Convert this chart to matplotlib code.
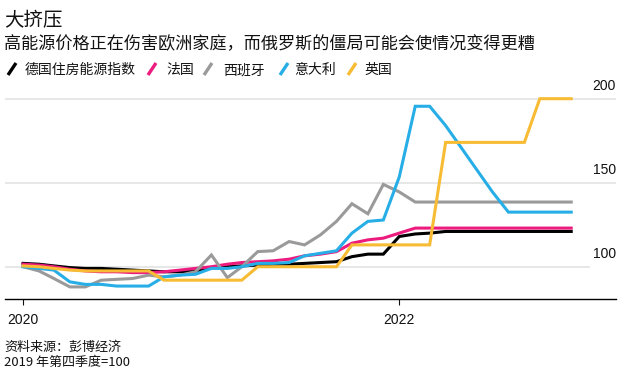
import matplotlib
matplotlib.use('Agg')
import matplotlib.pyplot as plt
import matplotlib.dates as mdates
import pandas as pd
from matplotlib.lines import Line2D

# 数据（2019 年第四季度=100），按月
bulan = pd.date_range('2020-01-01', periods=36, freq='MS')

jerman = [102, 101.5, 100.5, 99.5, 99, 99, 98.5, 98, 97.5, 97, 97, 97.5,
          99.5, 100, 100.5, 101, 101.5, 101.5, 102, 102.5, 103, 106, 107.5, 107.5,
          118, 119.5, 120, 121, 121, 121, 121, 121, 121, 121, 121, 121]
prancis = [101.5, 101, 100, 98.5, 97.5, 97, 97, 96.5, 96.5, 97, 98, 99,
           100, 101.5, 102.5, 103, 103.5, 104.5, 106.5, 107.5, 109, 114, 116, 117,
           120, 123, 123, 123, 123, 123, 123, 123, 123, 123, 123, 123]
spanyol = [100, 97.5, 93, 88, 88, 92, 92.5, 93, 95, 94, 95, 97,
           107, 93.5, 100, 109, 109.5, 115, 113, 119, 127, 137.5, 131.5, 149,
           144.5, 138.5, 138.5, 138.5, 138.5, 138.5, 138.5, 138.5, 138.5, 138.5, 138.5, 138.5]
italia = [100, 99, 98, 91, 89.5, 89.5, 88.5, 88.5, 88.5, 94, 95, 95.5,
          99, 99, 100, 102, 102, 102.5, 106.5, 108, 109.5, 120, 127, 127.8,
          153.5, 195.5, 195.5, 184, 171, 157.5, 144.5, 132.5, 132.5, 132.5, 132.5, 132.5]
inggris = [100.5, 100, 99, 98, 97.5, 97.5, 97.5, 97.5, 97.5, 92, 92, 92,
           92, 92, 92, 100, 100, 100, 100, 100, 100, 113, 113, 113,
           113, 113, 113, 174, 174, 174, 174, 174, 174, 200, 200, 200]

nama = ['德国住房能源指数', '法国', '西班牙', '意大利', '英国']
warna = ['#000000', '#ec1b7e', '#9a9a9a', '#27aee6', '#f8bc34']
nilai_y = [100, 150, 200]

cjk = ['Noto Sans CJK SC', 'DejaVu Sans']
angka = ['Liberation Sans', 'DejaVu Sans']

W, H = 644, 374
fig = plt.figure(figsize=(W / 100, H / 100), dpi=100)
ax = fig.add_axes([5 / W, 1 - 299 / H, 611 / W, (299 - 90.3) / H])


def fx(px):
    return px / W


def fy(py):
    return 1 - py / H


# garis grid (yang 100 sedikit lebih pendek, seperti aslinya)
for v in nilai_y:
    ujung = (589 - 5) / 611 if v == 100 else 1
    ax.axhline(v, xmax=ujung, color='#e3e3e3', lw=1.2, zorder=1)
    ax.annotate(str(v), xy=(1, v), xycoords=ax.get_yaxis_transform(),
                xytext=(0, 6.5), textcoords='offset points',
                ha='right', va='baseline', fontsize=10, family=angka, color='#111111')

for data, c in zip([jerman, prancis, spanyol, italia, inggris], warna):
    ax.plot(bulan, data, color=c, lw=2.2, zorder=3, solid_joinstyle='miter')

ax.set_xlim(pd.Timestamp('2019-11-27'), pd.Timestamp('2023-02-26'))
ax.set_ylim(80.8, 205)

for s in ['top', 'right', 'left']:
    ax.spines[s].set_visible(False)
ax.spines['bottom'].set_linewidth(1)
ax.set_yticks([])
ax.set_xticks([pd.Timestamp('2020-01-01'), pd.Timestamp('2022-01-01')])
ax.xaxis.set_major_formatter(mdates.DateFormatter('%Y'))
ax.tick_params(axis='x', direction='out', length=4, width=0.8, pad=6,
               labelsize=10, colors='#111111')
for lbl in ax.get_xticklabels():
    lbl.set_family(angka)

# judul
fig.text(fx(4), fy(26.4), '大挤压', fontsize=14, family=cjk, va='baseline', color='#111111')
fig.text(fx(4), fy(49.5), '高能源价格正在伤害欧洲家庭，而俄罗斯的僵局可能会使情况变得更糟',
         fontsize=12.3, family=cjk, va='baseline', color='#111111')

# legenda
posisi_ikon = [7, 147, 203, 279, 347]
posisi_teks = [25, 166, 223, 294, 364]
for n, c, xi, xt in zip(nama, warna, posisi_ikon, posisi_teks):
    fig.add_artist(Line2D([fx(xi + 1), fx(xi + 9)], [fy(75), fy(63)],
                          color=c, lw=2.4, solid_capstyle='butt'))
    fig.text(fx(xt), fy(74.3), n, fontsize=10, family=cjk, va='baseline', color='#111111')

# sumber
fig.text(fx(4), fy(351), '资料来源：彭博经济', fontsize=9.4, family=cjk, va='baseline', color='#111111')
fig.text(fx(4), fy(365.7), '2019 年第四季度=100', fontsize=9.4, family=cjk, va='baseline', color='#111111')

fig.savefig('out.png', dpi=100)
